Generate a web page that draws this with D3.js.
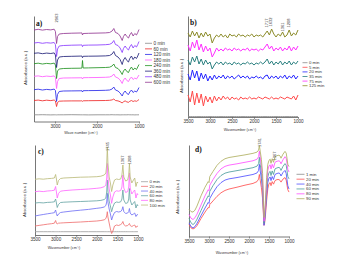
<!DOCTYPE html>
<html>
<head>
<meta charset="utf-8">
<script src="https://cdn.jsdelivr.net/npm/d3@7"></script>
<style>
  body { margin: 0; background: #fff; }
  svg { display: block; font-family: "Liberation Sans", Arial, sans-serif; }
</style>
</head>
<body>
<div id="chart"></div>
<script>
// ---- panel a) ----
const wnA = [3500, 3400, 3300, 3200, 3100, 3020, 2990, 2963, 2940, 2900, 2800, 2600, 2400, 2360, 2345, 2330, 2200, 2000, 1800, 1700,
  1640, 1600, 1560, 1500, 1450, 1400, 1370, 1330, 1290, 1250, 1220, 1180, 1140, 1100, 1060, 1030, 1000];
const labelsA = ["0 min", "60 min", "120 min", "180 min", "240 min", "360 min", "480 min", "600 min"];
const a0 = [6.7, 6.7, 6.8, 6.7, 6.6, 6.7, 6.7, 6.6, 6.7, 6.7, 6.7, 6.8, 6.7, 6.7, 6.7, 6.7, 6.6, 6.7, 6.7, 6.7,
  6.8, 6.7, 6.7, 6.7, 6.6, 6.7, 6.7, 6.7, 6.7, 6.8, 6.7, 6.7, 6.7, 6.6, 6.7, 6.7, 6.7];
const a60 = [21, 21.4, 20.7, 21.3, 20.9, 21.5, 20.5, 15, 19, 20.3, 20.5, 20.6, 20.6, 20.7, 20.2, 20.7, 20.8, 20.9, 21, 21.2,
  21.6, 22.5, 21, 20.6, 19.8, 18.5, 19.8, 20.6, 19.6, 19.2, 20.2, 21, 20, 20.7, 20.2, 21, 22];
const a120 = [31.8, 32.3, 31.5, 32.1, 31.7, 32.4, 31, 20, 27, 30, 30.5, 30.6, 30.7, 30.8, 29.5, 30.8, 30.9, 31, 31.2, 31.5,
  32.5, 34.5, 31.5, 30.5, 28.5, 25.5, 28.5, 30.5, 28, 27, 29.5, 31.5, 29, 30.5, 29.5, 31.5, 34];
const a180 = [45.2, 45.6, 44.8, 45.4, 45, 45.6, 44, 33, 40, 43, 43.5, 43.6, 43.7, 43.8, 42.5, 43.8, 43.9, 44, 44.2, 44.5,
  45.5, 47.5, 44.5, 43.5, 41.5, 38, 41.5, 43.5, 41, 40, 42.5, 44.5, 42, 43.5, 42.5, 44.5, 46.5];
const a240 = [57.8, 58.3, 57.5, 58.1, 57.7, 58.4, 56.5, 43, 50.5, 52.5, 53, 53.2, 53.3, 53.4, 61, 53.5, 53.6, 53.8, 54, 54.3,
  55.5, 57.5, 54, 53, 50.5, 47, 50.5, 52.5, 50, 49, 52, 54.5, 51.5, 53.5, 52, 54.5, 57];
const a360 = [68.2, 68.6, 67.8, 68.4, 68, 68.6, 66.5, 54, 61.5, 64.5, 65, 65.2, 65.4, 65.5, 63.8, 65.2, 65.3, 65.4, 65.6, 66,
  67.5, 70, 66, 64.5, 62, 57, 61.5, 64, 61, 59.5, 63, 65.5, 62, 64.5, 63, 65.5, 68.5];
const a480 = [78.5, 79, 78.2, 78.8, 78.4, 79, 77, 65, 72.5, 75.5, 76, 76.3, 76.5, 76.6, 74.8, 76.2, 76.4, 76.5, 76.8, 77.2,
  78.5, 81, 77, 76, 73.5, 69, 73, 75.5, 73, 71.5, 74.5, 77, 73.5, 76, 74.5, 77, 80];
const a600 = [91.5, 92.2, 91.4, 92, 91.6, 92.3, 90, 78, 85, 87.5, 88, 88.3, 88.5, 88.6, 86.5, 88, 88.2, 88.4, 88.6, 89,
  90.5, 93, 89, 88, 85.5, 81, 85, 87.5, 85, 83.5, 86.5, 89, 85.5, 88, 86.5, 89, 92];

// ---- panel b) ----
const wnB = [3500, 3450, 3400, 3350, 3300, 3250, 3200, 3150, 3100, 3050, 3000, 2950, 2900, 2850, 2800, 2750, 2700, 2650, 2600, 2550,
  2500, 2450, 2400, 2350, 2300, 2250, 2200, 2150, 2100, 2050, 2000, 1950, 1900, 1850, 1800, 1750, 1700, 1650, 1600, 1550,
  1500, 1450, 1400, 1350, 1300, 1250, 1200, 1150, 1100, 1050, 1000];
const labelsB = ["0 min", "5 min", "20 min", "35 min", "75 min", "125 min"];
const b0 = [0.3, 0.3, 0.3, 0.3, 0.3, 0.3, 0.3, 0.3, 0.3, 0.3, 0.3, 0.3, 0.3, 0.3, 0.3, 0.3, 0.3, 0.3, 0.3, 0.3,
  0.3, 0.3, 0.3, 0.3, 0.3, 0.3, 0.3, 0.3, 0.3, 0.3, 0.3, 0.3, 0.3, 0.3, 0.3, 0.3, 0.3, 0.3, 0.3, 0.3,
  0.3, 0.3, 0.3, 0.3, 0.3, 0.3, 0.3, 0.3, 0.3, 0.3, 0.3];
const b5 = [22, 15, 26, 12, 24, 14, 23, 11, 21, 15, 20, 14, 21, 16, 20, 17, 21, 18, 20, 17,
  20, 18, 19, 17, 20, 18, 19, 18, 20, 18, 19, 18, 20, 19, 18, 20, 19, 18, 20, 18,
  19, 18, 20, 19, 18, 20, 19, 18, 21, 17, 22];
const b20 = [43, 37, 47, 39, 46, 36, 44, 38, 43, 36, 41, 37, 42, 38, 41, 39, 42, 38, 41, 39,
  41, 38, 40, 42, 39, 41, 39, 41, 38, 40, 39, 41, 39, 40, 38, 41, 42, 38, 41, 39,
  41, 38, 41, 39, 42, 38, 41, 39, 42, 38, 41];
const b35 = [57, 52, 60, 55, 61, 53, 58, 52, 57, 53, 55, 48, 52, 55, 53, 55, 52, 55, 53, 54,
  52, 55, 53, 54, 52, 54, 53, 55, 53, 54, 52, 54, 53, 55, 53, 55, 58, 53, 56, 52,
  55, 53, 56, 52, 55, 53, 56, 52, 55, 53, 56];
const b75 = [72, 66, 75, 69, 77, 67, 73, 65, 71, 66, 69, 60, 64, 69, 66, 68, 66, 69, 67, 68,
  66, 69, 67, 68, 66, 68, 67, 69, 66, 68, 67, 68, 66, 68, 67, 70, 73, 68, 71, 66,
  69, 67, 70, 66, 69, 67, 71, 66, 70, 67, 71];
const b125 = [84, 80, 86, 81, 85, 79, 84, 80, 85, 81, 83, 74, 79, 82, 80, 83, 80, 82, 79, 83,
  81, 82, 80, 83, 81, 82, 80, 82, 81, 83, 80, 82, 81, 82, 80, 83, 86, 82, 88, 83,
  80, 83, 81, 85, 80, 82, 87, 81, 84, 82, 87];

// ---- panel c) ----
const wnC = [3500, 3400, 3300, 3200, 3100, 3030, 3000, 2980, 2960, 2930, 2880, 2800, 2600, 2400, 2200, 2000, 1900, 1820, 1780, 1760,
  1745, 1730, 1700, 1670, 1640, 1610, 1570, 1520, 1470, 1420, 1390, 1367, 1345, 1300, 1250, 1225, 1208, 1190, 1150, 1110,
  1080, 1050, 1020, 1000];
const labelsC = ["0 min", "20 min", "40 min", "60 min", "80 min", "100 min"];
const c0 = [3.3, 3.3, 3.3, 3.3, 3.3, 3.3, 3.3, 3.3, 3.3, 3.3, 3.3, 3.3, 3.3, 3.3, 3.3, 3.3, 3.3, 3.3, 3.3, 3.3,
  3.3, 3.3, 3.3, 3.3, 3.3, 3.3, 3.3, 3.3, 3.3, 3.3, 3.3, 3.3, 3.3, 3.3, 3.3, 3.3, 3.3, 3.3, 3.3, 3.3,
  3.3, 3.3, 3.3, 3.3];
const c20 = [9, 9.6, 10.2, 10.8, 11.3, 11.8, 14.5, 12, 11, 11.8, 12, 12.2, 12.6, 13, 13.5, 14, 14.5, 15.2, 16.5, 19,
  23.3, 18, 12, 6, 1.5, 4, 9, 10, 9.5, 10.5, 11.5, 13.5, 10.5, 9, 9.5, 10.5, 11.5, 9.5, 8.5, 9.5,
  10, 7.5, 9, 8.5];
const c40 = [19, 19.8, 20.5, 21.2, 21.8, 22.3, 25, 21.5, 19, 21, 22.5, 23, 24, 24.8, 25.6, 26.7, 27.2, 28, 29.5, 33,
  41.7, 33, 26, 21, 15, 19, 22.5, 23.5, 23, 23.5, 25, 28.3, 23.5, 21.5, 22, 23.5, 26.5, 22, 20, 21,
  22, 18.5, 20.5, 20];
const c60 = [32, 32.4, 32.1, 32.6, 32.8, 33.2, 36, 32, 27.5, 30.5, 32.5, 32.8, 33.2, 33.5, 33.8, 34.2, 34.6, 35.5, 37, 43,
  55, 44, 34, 29, 23.3, 28, 32, 33, 32.6, 33.2, 36, 45, 35, 31.5, 32.3, 36, 46.5, 35, 30, 32,
  33.5, 27, 30.5, 29];
const c80 = [43.3, 43.8, 43.4, 44, 44.3, 44.8, 48.5, 43, 37, 41.5, 43.8, 44.3, 45, 45.5, 46, 46.7, 47.2, 48.3, 50, 57,
  71.5, 58, 46, 40, 31.7, 38, 43, 44.2, 43.8, 44.5, 48, 60, 47, 42.5, 43.5, 48, 62, 47, 41, 43.5,
  45, 37, 41.5, 40];
const c100 = [55.7, 56.2, 55.8, 56.3, 56.6, 57, 60.5, 56, 50, 54.5, 56.5, 57, 57.4, 57.8, 58, 58.3, 58.8, 60, 62, 70,
  88, 72, 58, 52, 43.5, 50, 55, 56, 55.5, 56, 60, 70, 58, 54, 55, 60, 71.5, 58, 52, 55,
  57, 48.5, 53, 52];

// ---- panel d) ----
const wnD = [3500, 3450, 3400, 3350, 3300, 3200, 3100, 3020, 3000, 2980, 2900, 2800, 2700, 2600, 2500, 2300, 2100, 1900, 1800, 1760,
  1741, 1720, 1690, 1660, 1640, 1625, 1610, 1590, 1560, 1530, 1500, 1470, 1450, 1420, 1387, 1350, 1300, 1250, 1220, 1200,
  1150, 1100, 1070, 1050, 1030, 1000];
const labelsD = ["1 min", "20 min", "40 min", "60 min", "80 min", "90 min"];
const d20 = [11.7, 8.5, 7.4, 8.5, 10.7, 17.7, 24, 28.5, 28, 31.5, 35, 39.5, 43, 45.3, 46.7, 48.5, 50.5, 52.2, 54, 56.5,
  61, 55.5, 48, 37, 22, 11, 13, 20, 35, 47, 52, 53, 50, 54, 51.5, 55, 56, 56, 55, 53.5,
  56.5, 58, 55.5, 50.5, 46, 43.7];
const d40 = [13.4, 9.8, 8.4, 9.8, 13, 20.5, 28, 33.5, 32.5, 37.5, 43, 49, 53, 55.5, 56.7, 58, 59.5, 61, 62.5, 65,
  71, 64.5, 57, 45, 26, 11, 15, 24, 41, 53, 57.5, 58.5, 55, 59, 56, 61, 62, 62.5, 61.5, 59.5,
  63, 65, 62, 56, 50, 46.7];
const d60 = [17.7, 13.5, 11.7, 13.5, 17, 25.5, 34, 40, 39, 44.5, 50, 56, 60, 62.3, 63.4, 64.8, 66.2, 67.7, 69.2, 71.7,
  78, 71, 63, 50, 29, 13, 17, 27, 46, 58.5, 63, 64, 60, 64.5, 61, 66.5, 67.5, 68, 67, 65,
  69, 71.7, 70, 65, 59, 56.7];
const d80 = [21.7, 18, 16.7, 18.5, 22, 31, 40, 46, 45, 50.5, 56, 62, 66.5, 69, 70.2, 71.5, 73, 74.5, 76, 78.5,
  84, 78, 70, 56, 32, 15, 20, 30, 52, 65, 69.5, 70.5, 66.5, 71, 67.5, 73, 74, 74.5, 73.5, 71.5,
  75.5, 78.5, 77, 72, 66, 63.5];
const d90 = [26.7, 24.5, 24, 26, 30, 40, 48.5, 54, 53, 59, 64, 70, 74, 76.5, 77.7, 79, 80.3, 81.8, 83, 85,
  89.5, 84, 76, 62, 35, 18.7, 24, 35, 58, 71, 75, 76, 72, 76.5, 73, 78.5, 79.5, 80, 79, 77,
  81, 83.7, 82, 77, 71, 68.7];

const width = 351, height = 263;
const svg = d3.select("#chart").append("svg")
    .attr("width", width)
    .attr("height", height);

function drawPanel(p) {
  const x = d3.scaleLinear().domain([3500, 1000]).range([p.left, p.right]);
  const y = d3.scaleLinear().domain([0, p.ymax]).range([p.bottom, p.top]);
  const g = svg.append("g");

  // x axis
  const xa = g.append("g")
      .attr("transform", `translate(0,${p.bottom})`)
      .call(d3.axisBottom(x).tickValues(p.ticks).tickSize(2).tickSizeOuter(0).tickPadding(1.2).tickFormat(d3.format("d")));
  xa.select(".domain").attr("stroke", "#555").attr("stroke-width", 0.8);
  xa.selectAll(".tick line").attr("stroke", "#555").attr("stroke-width", 0.6);
  xa.selectAll("text").attr("font-size", 4.6).attr("fill", "#333").attr("font-family", "Liberation Sans, Arial, sans-serif");

  // y axis, no ticks
  const ya = g.append("g")
      .attr("transform", `translate(${p.left},0)`)
      .call(d3.axisLeft(y).tickValues([]).tickSizeOuter(0));
  ya.select(".domain").attr("stroke", "#555").attr("stroke-width", 0.8);

  // spectra
  const line = d3.line().x(d => x(d[0])).y(d => y(d[1]));
  p.series.forEach(s => {
    if (!s.values) return;
    g.append("path")
      .datum(d3.zip(s.wn, s.values))
      .attr("fill", "none")
      .attr("stroke", s.color)
      .attr("stroke-width", p.lw)
      .attr("stroke-linejoin", "round")
      .attr("d", line);
  });

  // legend
  p.series.forEach((s, i) => {
    const ly = p.legY + i * p.legStep;
    g.append("line")
      .attr("x1", p.legX).attr("x2", p.legX + p.legLen)
      .attr("y1", ly).attr("y2", ly)
      .attr("stroke", s.color).attr("stroke-width", 0.8);
    g.append("text")
      .attr("x", p.legX + p.legLen + 1.5).attr("y", ly)
      .attr("dy", "0.35em")
      .attr("font-size", p.legFont).attr("fill", "#333")
      .text(s.label);
  });

  // panel letter
  g.append("text")
    .attr("x", p.letterX).attr("y", p.letterY)
    .attr("font-family", "Liberation Serif, Times New Roman, serif")
    .attr("font-weight", "bold").attr("font-size", 7.5).attr("fill", "#111")
    .text(p.letter);

  // axis titles
  g.append("text")
    .attr("x", p.xTitleX).attr("y", p.xTitleY)
    .attr("text-anchor", "middle").attr("font-size", 3.7).attr("fill", "#333")
    .text(p.xTitle);
  g.append("text")
    .attr("transform", `translate(${p.yTitleX},${p.yTitleY}) rotate(-90)`)
    .attr("text-anchor", "middle").attr("font-size", 4.3).attr("fill", "#333")
    .text("Absorbance (a.u.)");

  // peak labels
  p.peaks.forEach(pk => {
    g.append("text")
      .attr("transform", `translate(${x(pk.wn) + 1.5},${pk.y}) rotate(-90)`)
      .attr("text-anchor", "middle").attr("font-size", 4).attr("fill", "#333")
      .text(pk.label);
  });
}

const xTitle = "Wavenumber (cm\u207B\u00B9)";

drawPanel({
  letter: "a)", letterX: 36, letterY: 26, lw: 0.85, legFont: 4.7,
  left: 34, right: 139, top: 16, bottom: 121.5, ymax: 105.5,
  ticks: [3000, 2000, 1000],
  xTitle: "Wave number (cm\u207B\u00B9)", xTitleX: 81, xTitleY: 134,
  yTitleX: 27, yTitleY: 68,
  legX: 145, legY: 43.3, legStep: 5.57, legLen: 7,
  peaks: [{wn: 2963, label: "2963", y: 18}],
  series: [
    {label: labelsA[0], wn: wnA, values: a0, color: "#8a8a8a"},
    {label: labelsA[1], wn: wnA, values: a60, color: "#ee2b2b"},
    {label: labelsA[2], wn: wnA, values: a120, color: "#2a2ae8"},
    {label: labelsA[3], wn: wnA, values: a180, color: "#ff5cff"},
    {label: labelsA[4], wn: wnA, values: a240, color: "#249424"},
    {label: labelsA[5], wn: wnA, values: a360, color: "#22227a"},
    {label: labelsA[6], wn: wnA, values: a480, color: "#8b3dff"},
    {label: labelsA[7], wn: wnA, values: a600, color: "#943a94"}
  ]
});

drawPanel({
  letter: "b)", letterX: 190, letterY: 25, lw: 1, legFont: 4.3,
  left: 188, right: 298, top: 16, bottom: 117, ymax: 101,
  ticks: [3500, 3000, 2500, 2000, 1500, 1000],
  xTitle: xTitle, xTitleX: 240, xTitleY: 131,
  yTitleX: 183, yTitleY: 76,
  legX: 302.5, legY: 62.7, legStep: 4.6, legLen: 5,
  peaks: [{wn: 1717, label: "1717", y: 23}, {wn: 1632, label: "1632", y: 22},
          {wn: 1361, label: "1361", y: 27}, {wn: 1208, label: "1208", y: 23}],
  series: [
    {label: labelsB[0], wn: wnB, values: b0, color: "#8a8a8a"},
    {label: labelsB[1], wn: wnB, values: b5, color: "#ff4a4a"},
    {label: labelsB[2], wn: wnB, values: b20, color: "#2424ff"},
    {label: labelsB[3], wn: wnB, values: b35, color: "#2a8080"},
    {label: labelsB[4], wn: wnB, values: b75, color: "#ff2eff"},
    {label: labelsB[5], wn: wnB, values: b125, color: "#8c8c2a"}
  ]
});

drawPanel({
  letter: "c)", letterX: 38, letterY: 154, lw: 0.85, legFont: 4.3,
  left: 35, right: 138, top: 145, bottom: 235, ymax: 90,
  ticks: [3500, 3000, 2500, 2000, 1500, 1000],
  xTitle: xTitle, xTitleX: 64, xTitleY: 249,
  yTitleX: 26, yTitleY: 200,
  legX: 141, legY: 181.7, legStep: 4.67, legLen: 7,
  peaks: [{wn: 1745, label: "1745", y: 146.5}, {wn: 1367, label: "1367", y: 160},
          {wn: 1208, label: "1208", y: 160}],
  series: [
    {label: labelsC[0], wn: wnC, values: c0, color: "#a0a0a0"},
    {label: labelsC[1], wn: wnC, values: c20, color: "#f07272"},
    {label: labelsC[2], wn: wnC, values: c40, color: "#7474f4"},
    {label: labelsC[3], wn: wnC, values: c60, color: "#6aa6a6"},
    {label: labelsC[4], wn: wnC, values: c80, color: "#ff6cff"},
    {label: labelsC[5], wn: wnC, values: c100, color: "#bcbc7c"}
  ]
});

drawPanel({
  letter: "d)", letterX: 195, letterY: 152, lw: 0.85, legFont: 4.3,
  left: 189, right: 289, top: 145, bottom: 236.5, ymax: 90,
  ticks: [3500, 3000, 2500, 2000, 1500, 1000],
  xTitle: xTitle, xTitleX: 232, xTitleY: 253.5,
  yTitleX: 179, yTitleY: 197,
  legX: 296.5, legY: 174.3, legStep: 4.88, legLen: 8,
  peaks: [{wn: 1741, label: "1741", y: 142.5}, {wn: 1367, label: "1367", y: 156}],
  series: [
    {label: labelsD[0], wn: wnD, values: null, color: "#8a8a8a"},
    {label: labelsD[1], wn: wnD, values: d20, color: "#ff5252"},
    {label: labelsD[2], wn: wnD, values: d40, color: "#5252ff"},
    {label: labelsD[3], wn: wnD, values: d60, color: "#4f9e9e"},
    {label: labelsD[4], wn: wnD, values: d80, color: "#ff52ff"},
    {label: labelsD[5], wn: wnD, values: d90, color: "#b0b062"}
  ]
});
</script>
</body>
</html>
